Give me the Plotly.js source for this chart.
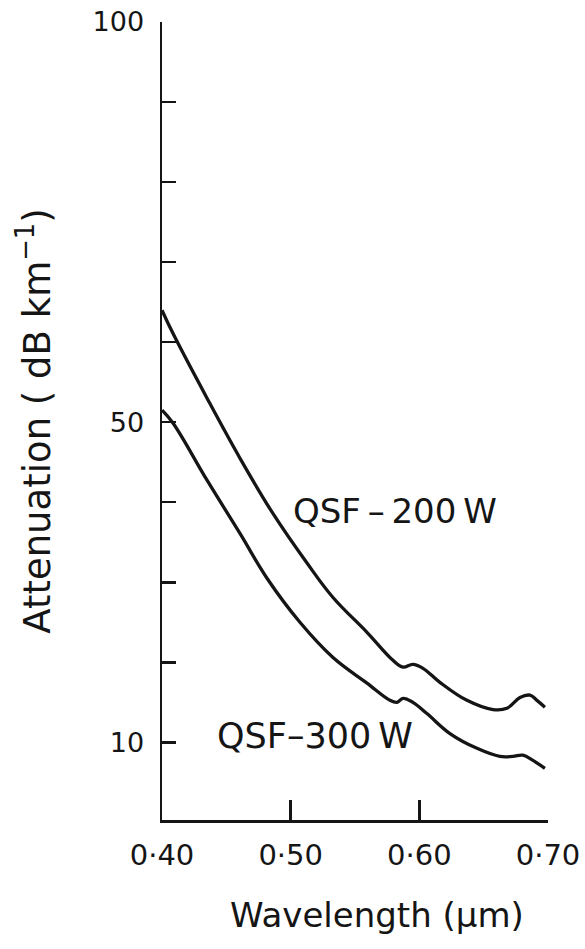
<!DOCTYPE html>
<html>
<head>
<meta charset="utf-8">
<script src="https://cdn.plot.ly/plotly-3.0.1.min.js"></script>
<style>html,body{margin:0;padding:0;background:#fff;}#chart{width:585px;height:949px;}</style>
</head>
<body>
<div id="chart"></div>
<script>
// Wavelength (µm) and attenuation (dB/km)
const wl200 = [0.400, 0.4085, 0.435, 0.4606, 0.4862, 0.5127, 0.5329, 0.5593, 0.5795, 0.5873, 0.595, 0.6028, 0.616, 0.637, 0.6572, 0.668, 0.6782, 0.686, 0.6914, 0.6976];
const att200 = [64.0, 61.1, 53.0, 45.5, 38.6, 32.4, 28.1, 23.75, 20.25, 19.4, 19.75, 19.25, 17.5, 15.25, 14.1, 14.25, 15.6, 15.9, 15.25, 14.4];
const wl300 = [0.400, 0.4085, 0.435, 0.4606, 0.4816, 0.5072, 0.5329, 0.5593, 0.5772, 0.5826, 0.5873, 0.595, 0.6059, 0.6238, 0.6448, 0.6626, 0.6727, 0.6805, 0.6883, 0.6976];
const att300 = [51.5, 49.9, 42.75, 36.1, 30.5, 25.0, 20.6, 17.4, 15.25, 15.0, 15.5, 15.0, 13.6, 11.1, 9.25, 8.25, 8.25, 8.4, 7.75, 6.75];
const seriesNames = ["QSF\u2009\u2013\u2009200\u2009W", "QSF\u2013300\u2009W"];
const xTickVals = [0.40, 0.50, 0.60, 0.70];
const xTickText = ["0\u00b740", "0\u00b750", "0\u00b760", "0\u00b770"];
const yTickVals = [10, 50, 100];
const yTickText = ["10", "50", "100"];
const xTitle = "Wavelength (\u00b5m)";
const yTitle = "Attenuation ( dB km<sup>\u22121</sup>)";

const FONT = "DejaVu Sans, sans-serif";
const INK = "#151515";
const lineStyle = {color: INK, width: 3.3, shape: "spline", smoothing: 1.1};

const traces = [
  {x: wl200, y: att200, mode: "lines", name: seriesNames[0], line: lineStyle, hoverinfo: "skip"},
  {x: wl300, y: att300, mode: "lines", name: seriesNames[1], line: lineStyle, hoverinfo: "skip"}
];

const layout = {
  width: 585, height: 949,
  margin: {l: 162, r: 37, t: 22, b: 129},
  paper_bgcolor: "#fff", plot_bgcolor: "#fff",
  showlegend: false,
  font: {family: FONT, color: INK, size: 28},
  xaxis: {
    range: [0.40, 0.70], tickvals: xTickVals, ticktext: xTickText,
    ticks: "inside", ticklen: 20, tickwidth: 2.5, tickcolor: INK,
    showline: true, linewidth: 2.5, linecolor: INK,
    showgrid: false, zeroline: false, ticklabelstandoff: 8,
    tickfont: {family: FONT, size: 29, color: INK}
  },
  yaxis: {
    range: [0.3, 100], tickvals: yTickVals, ticktext: yTickText,
    ticks: "inside", ticklen: 14, tickwidth: 2.5, tickcolor: INK,
    minor: {tick0: 0, dtick: 10, ticks: "inside", ticklen: 14, tickwidth: 2.5, tickcolor: INK, showgrid: false},
    showline: true, linewidth: 2.5, linecolor: INK,
    showgrid: false, zeroline: false, ticklabelstandoff: 10,
    tickfont: {family: FONT, size: 27, color: INK},
    title: {text: yTitle, font: {family: FONT, size: 37, color: INK}, standoff: 31}
  },
  annotations: [
    {x: 0.557, y: -0.119, xref: "paper", yref: "paper", xanchor: "center", yanchor: "middle",
     text: xTitle, showarrow: false, font: {family: FONT, size: 34, color: INK}},
    {x: 0.581, y: 38.9, xref: "x", yref: "y", text: seriesNames[0], showarrow: false,
     font: {family: FONT, size: 34, color: INK}},
    {x: 0.519, y: 10.75, xref: "x", yref: "y", text: seriesNames[1], showarrow: false,
     font: {family: FONT, size: 35, color: INK}}
  ]
};

Plotly.newPlot("chart", traces, layout, {staticPlot: true, displayModeBar: false});
</script>
</body>
</html>
